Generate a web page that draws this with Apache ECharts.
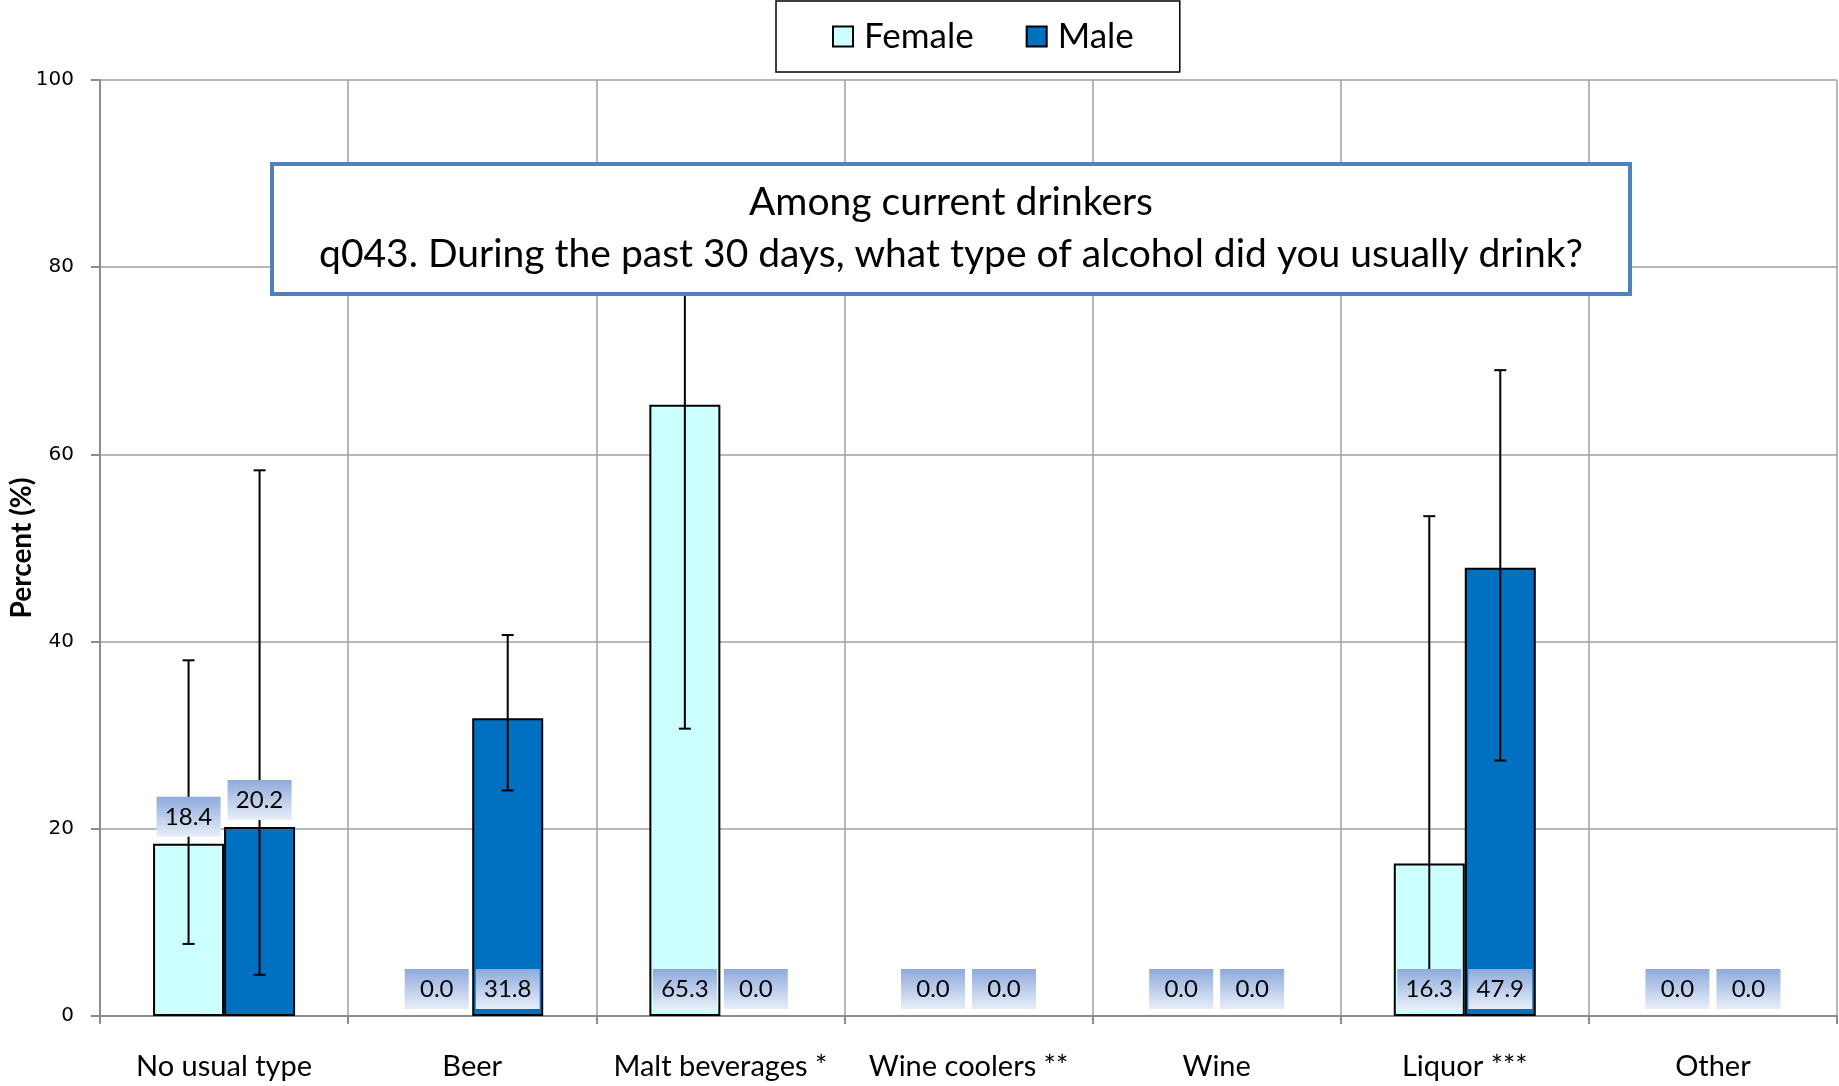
<!DOCTYPE html>
<html><head><meta charset="utf-8">
<script src="https://cdn.jsdelivr.net/npm/echarts@6/dist/echarts.min.js"></script>
<style>html,body{margin:0;padding:0;background:#fff}#c{width:1839px;height:1086px}</style>
</head><body><div id="c"></div>
<script>
const categories = ['No usual type','Beer','Malt beverages *','Wine coolers **','Wine','Liquor ***','Other'];
const femaleValues = [18.4, 0.0, 65.3, 0.0, 0.0, 16.3, 0.0];
const maleValues   = [20.2, 31.8, 0.0, 0.0, 0.0, 47.9, 0.0];
// confidence intervals [categoryIndex, low, high]
const femaleCI = [[0, 7.7, 38.0], [2, 30.7, 88.0], [5, 2.5, 53.4]];
const maleCI   = [[0, 4.4, 58.3], [1, 24.1, 40.7], [5, 27.3, 69.0]];
const yTicks = [0, 20, 40, 60, 80, 100];
const titleLines = ['Among current drinkers', 'q043. During the past 30 days, what type of alcohol did you usually drink?'];

const FONT = 'Lato';
const BAR_W = 71;

function barData(vals){
  return vals.map(v=>({value:v, itemStyle: v===0 ? {borderWidth:0} : undefined}));
}
function errSeries(data, offset){
  return {
    type:'custom', data:data, z:3, silent:true,
    renderItem:function(params, api){
      const c = api.value(0);
      const x = api.coord([c,0])[0] + offset;
      const lo = api.coord([c, api.value(1)])[1];
      const hi = api.coord([c, api.value(2)])[1];
      const st = {stroke:'#000', lineWidth:2};
      return {type:'group', children:[
        {type:'line', shape:{x1:x,y1:lo,x2:x,y2:hi}, style:st},
        {type:'line', shape:{x1:x-6,y1:lo,x2:x+6,y2:lo}, style:st},
        {type:'line', shape:{x1:x-6,y1:hi,x2:x+6,y2:hi}, style:st}
      ]};
    }
  };
}
function labelSeries(vals, offset){
  return {
    type:'custom', data: vals.map((v,i)=>[i, v]), z:4, silent:true,
    renderItem:function(params, api){
      const c = api.value(0), v = api.value(1);
      const x = api.coord([c,0])[0] + offset;
      const above = c === 0;
      const y = (above ? api.coord([c, v])[1] : api.coord([c, 0])[1]) - 7;
      return {type:'text', x:x, y:y, style:{
        text: v.toFixed(1), fontFamily:FONT, fontSize:24, fill:'#000',
        align:'center', verticalAlign:'bottom',
        width:64, height:40, lineHeight:40,
        backgroundColor: new echarts.graphic.LinearGradient(0,0,0,1,[{offset:0,color:'#8eaadc'},{offset:1,color:'#e8eef8'}])
      }};
    }
  };
}
const chart = echarts.init(document.getElementById('c'));
chart.setOption({
  animation:false,
  grid:{left:100, right:2, top:80, bottom:70, containLabel:false, outerBoundsMode:'none'},
  legend:{
    data:['Female','Male'], left:776, top:1,
    padding:[18,46,18,56], borderColor:'#000', borderWidth:1.5,
    itemWidth:20, itemHeight:20, itemGap:52,
    textStyle:{fontFamily:FONT, fontSize:35, color:'#000', padding:[0,0,0,6]},
    icon:'rect'
  },
  xAxis:{
    type:'category', data:categories,
    axisLine:{lineStyle:{color:'#8c8c8c', width:2}},
    axisTick:{show:true, length:8, lineStyle:{color:'#8c8c8c', width:2}},
    splitLine:{show:true, lineStyle:{color:'#a0a0a0', width:1.5}},
    axisLabel:{fontFamily:FONT, fontSize:29, color:'#000', margin:36, interval:0}
  },
  yAxis:{
    type:'value', min:0, max:100, interval:20,
    name:'Percent (%)', nameLocation:'middle', nameGap:64, nameMoveOverlap:false,
    nameTextStyle:{fontFamily:FONT, fontWeight:'bold', fontSize:28, color:'#000'},
    axisLine:{show:true, lineStyle:{color:'#8c8c8c', width:2}},
    axisTick:{show:true, length:9, lineStyle:{color:'#8c8c8c', width:2}},
    splitLine:{show:true, lineStyle:{color:'#a0a0a0', width:1.5}},
    axisLabel:{fontFamily:'DejaVu Sans', fontSize:20, color:'#000', margin:26,
      formatter:v=> yTicks.includes(v) ? String(v) : ''}
  },
  series:[
    {name:'Female', type:'bar', data:barData(femaleValues), barWidth:BAR_W, barGap:'0%', z:2,
     itemStyle:{color:'#ccffff', borderColor:'#000', borderWidth:2}},
    {name:'Male', type:'bar', data:barData(maleValues), barWidth:BAR_W, barGap:'0%', z:2,
     itemStyle:{color:'#0070c0', borderColor:'#000', borderWidth:2}},
    errSeries(femaleCI, -BAR_W/2),
    errSeries(maleCI, BAR_W/2),
    labelSeries(femaleValues, -BAR_W/2),
    labelSeries(maleValues, BAR_W/2)
  ],
  graphic:[
    {type:'rect', z:100, shape:{x:272,y:164,width:1358,height:130}, style:{fill:'#fff', stroke:'#4f81bd', lineWidth:4}},
    {type:'text', z:101, x:951, y:202, style:{text:titleLines[0], fontFamily:FONT, fontSize:39, fill:'#000', align:'center', verticalAlign:'middle'}},
    {type:'text', z:101, x:951, y:254, style:{text:titleLines[1], fontFamily:FONT, fontSize:39, fill:'#000', align:'center', verticalAlign:'middle'}}
  ]
});
</script></body></html>
